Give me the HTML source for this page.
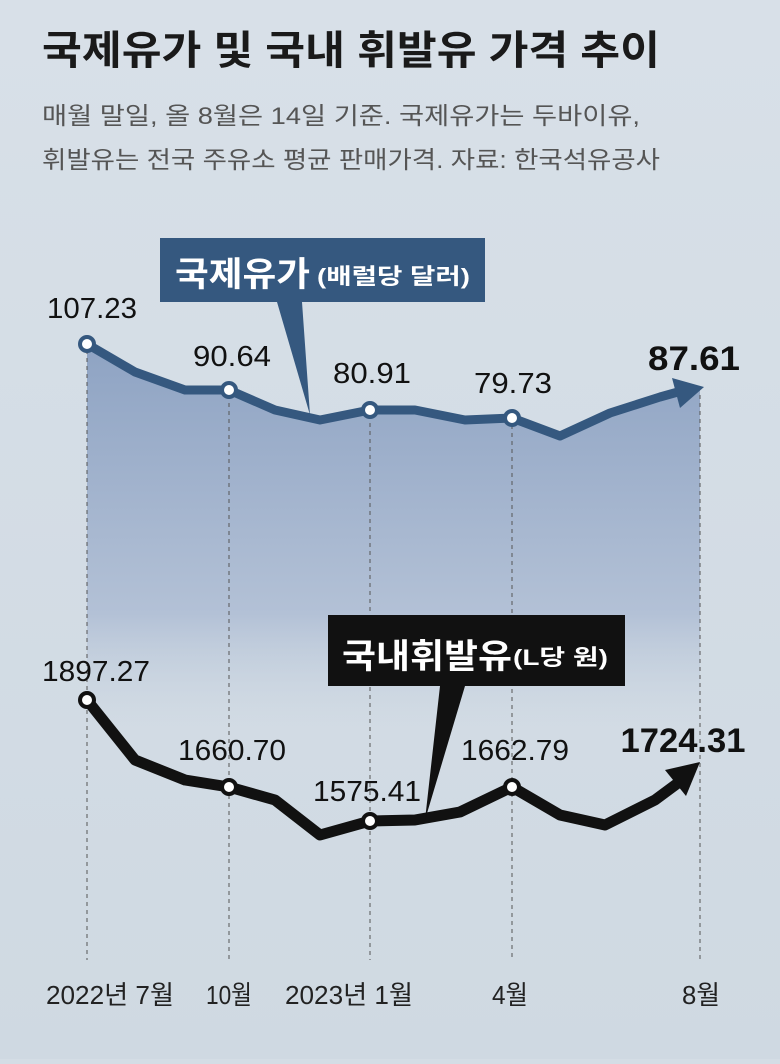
<!DOCTYPE html>
<html><head><meta charset="utf-8"><style>
body{margin:0;width:780px;height:1059px;overflow:hidden;background:#d4dde5;font-family:"Liberation Sans","Noto Sans CJK KR",sans-serif;}
</style></head><body>
<svg width="780" height="1059" xmlns="http://www.w3.org/2000/svg" style="font-family:'Liberation Sans','Noto Sans CJK KR',sans-serif">
<defs>
<linearGradient id="bg" x1="0" y1="0" x2="0" y2="1"><stop offset="0" stop-color="#d8e0e8"/><stop offset="1" stop-color="#cfd9e2"/></linearGradient>
<linearGradient id="ar" x1="0" y1="0" x2="0" y2="1"><stop offset="0" stop-color="#8ea3c3"/><stop offset="0.7" stop-color="#b3c1d6"/><stop offset="1" stop-color="#c9d4e0" stop-opacity="0"/></linearGradient>
</defs>
<rect width="780" height="1059" fill="url(#bg)"/>
<text x="42" y="64" font-size="40" font-weight="bold" fill="#1a1a1a" textLength="618" lengthAdjust="spacingAndGlyphs">국제유가 및 국내 휘발유 가격 추이</text>
<text x="42" y="124" font-size="24" fill="#555" textLength="598" lengthAdjust="spacingAndGlyphs">매월 말일, 올 8월은 14일 기준. 국제유가는 두바이유,</text>
<text x="42" y="168" font-size="24" fill="#555" textLength="618" lengthAdjust="spacingAndGlyphs">휘발유는 전국 주유소 평균 판매가격.  자료: 한국석유공사</text>
<path d="M87,344 L135,372 L185,390 L229,390 L275,410 L320,420 L370,410 L415,410 L465,420 L512,418 L560,436 L610,413 L660,397 L700,390 L700,730 L87,730 Z" fill="url(#ar)"/>
<g stroke="#555" stroke-width="1" stroke-dasharray="4,4">
<line x1="87" y1="350" x2="87" y2="960"/><line x1="229" y1="395" x2="229" y2="960"/><line x1="370" y1="415" x2="370" y2="960"/><line x1="512" y1="425" x2="512" y2="960"/><line x1="700" y1="395" x2="700" y2="960"/>
</g>
<polyline points="87,344 135,372 185,390 229,390 275,410 320,420 370,410 415,410 465,420 512,418 560,436 610,413 660,397 685,390" fill="none" stroke="#35587f" stroke-width="9" stroke-linejoin="round"/>
<polygon points="704,387 672,378 680,408" fill="#35587f"/>
<polyline points="87,700 135,760 185,780 229,787 275,800 320,835 370,821 415,820 460,812 512,787 560,815 605,825 655,800 682,780" fill="none" stroke="#111" stroke-width="11" stroke-linejoin="round"/>
<polygon points="700,762 665,770 686,796" fill="#111"/>
<g fill="#fff" stroke="#35587f" stroke-width="4"><circle cx="87" cy="344" r="7"/><circle cx="229" cy="390" r="7"/><circle cx="370" cy="410" r="7"/><circle cx="512" cy="418" r="7"/></g>
<g fill="#fff" stroke="#111" stroke-width="4"><circle cx="87" cy="700" r="7"/><circle cx="229" cy="787" r="7"/><circle cx="370" cy="821" r="7"/><circle cx="512" cy="787" r="7"/></g>
<polygon points="160,238 485,238 485,302 302,302 310,415 277,302 160,302" fill="#35587f"/>
<text x="175" y="286" font-size="34" font-weight="bold" fill="#fff" textLength="135" lengthAdjust="spacingAndGlyphs">국제유가</text>
<text x="317" y="284" font-size="22" font-weight="bold" fill="#fff" textLength="153" lengthAdjust="spacingAndGlyphs">(배럴당 달러)</text>
<polygon points="328,615 625,615 625,686 465,686 425,820 440,686 328,686" fill="#111"/>
<text x="342" y="668" font-size="34" font-weight="bold" fill="#fff" textLength="170" lengthAdjust="spacingAndGlyphs">국내휘발유</text>
<text x="513" y="665" font-size="22" font-weight="bold" fill="#fff" textLength="95" lengthAdjust="spacingAndGlyphs">(L당 원)</text>
<g font-size="29" fill="#111" text-anchor="middle">
<text x="92" y="318" textLength="90" lengthAdjust="spacingAndGlyphs">107.23</text>
<text x="232" y="366" textLength="78" lengthAdjust="spacingAndGlyphs">90.64</text>
<text x="372" y="383" textLength="78" lengthAdjust="spacingAndGlyphs">80.91</text>
<text x="513" y="393" textLength="78" lengthAdjust="spacingAndGlyphs">79.73</text>
<text x="96" y="681" textLength="108" lengthAdjust="spacingAndGlyphs">1897.27</text>
<text x="232" y="760" textLength="108" lengthAdjust="spacingAndGlyphs">1660.70</text>
<text x="367" y="801" textLength="108" lengthAdjust="spacingAndGlyphs">1575.41</text>
<text x="515" y="760" textLength="108" lengthAdjust="spacingAndGlyphs">1662.79</text>
</g>
<g font-size="34" font-weight="bold" fill="#111" text-anchor="middle">
<text x="694" y="370" textLength="92" lengthAdjust="spacingAndGlyphs">87.61</text>
<text x="683" y="752" textLength="125" lengthAdjust="spacingAndGlyphs">1724.31</text>
</g>
<g font-size="26" fill="#222" text-anchor="middle">
<text x="110" y="1004" textLength="128" lengthAdjust="spacingAndGlyphs">2022년 7월</text>
<text x="229" y="1004" textLength="46" lengthAdjust="spacingAndGlyphs">10월</text>
<text x="349" y="1004" textLength="128" lengthAdjust="spacingAndGlyphs">2023년 1월</text>
<text x="510" y="1004" textLength="36" lengthAdjust="spacingAndGlyphs">4월</text>
<text x="701" y="1004" textLength="38" lengthAdjust="spacingAndGlyphs">8월</text>
</g>
</svg>
</body></html>
